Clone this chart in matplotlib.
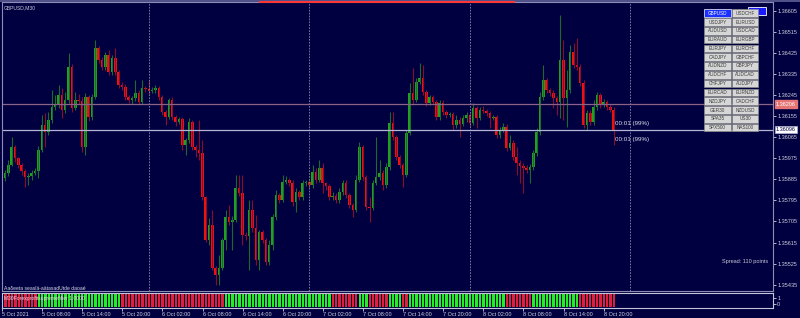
import numpy as np
import matplotlib
matplotlib.use("Agg")
from matplotlib import pyplot as plt
from matplotlib.patches import Rectangle

plt.rcParams['font.family'] = ['Liberation Sans', 'DejaVu Sans']

symbol = "GBPUSD,M30"

# M30 bars from 5 Oct 02:00 to 8 Oct 21:30, open of a bar = close of the previous one
first_open = 1.35946
closes = [
    1.35891, 1.35912, 1.35946, 1.36023, 1.35976, 1.35946, 1.35921, 1.35895, 1.35900, 1.35912,
    1.35921, 1.36011, 1.36117, 1.36087, 1.36139, 1.36194, 1.36203, 1.36245, 1.36181, 1.36224,
    1.36365, 1.36190, 1.36224, 1.36220, 1.36023, 1.36237, 1.36151, 1.36237, 1.36446, 1.36395,
    1.36365, 1.36416, 1.36344, 1.36403, 1.36344, 1.36288, 1.36280, 1.36237, 1.36224, 1.36233,
    1.36254, 1.36216, 1.36275, 1.36271, 1.36262, 1.36267, 1.36275, 1.36237, 1.36173, 1.36151,
    1.36224, 1.36151, 1.36130, 1.36143, 1.36032, 1.36053, 1.36130, 1.36023, 1.36011, 1.35998,
    1.35810, 1.35626, 1.35690, 1.35507, 1.35477, 1.35507, 1.35626, 1.35724, 1.35703, 1.35712,
    1.35848, 1.35827, 1.35648, 1.35643, 1.35754, 1.35677, 1.35541, 1.35660, 1.35626, 1.35532,
    1.35605, 1.35724, 1.35818, 1.35797, 1.35874, 1.35882, 1.35870, 1.35789, 1.35831, 1.35810,
    1.35870, 1.35874, 1.35861, 1.35917, 1.35882, 1.35934, 1.35870, 1.35857, 1.35810, 1.35814,
    1.35797, 1.35831, 1.35870, 1.35818, 1.35776, 1.35754, 1.35882, 1.36023, 1.35895, 1.35767,
    1.35763, 1.35870, 1.35895, 1.35912, 1.35861, 1.35938, 1.36126, 1.36066, 1.35981, 1.35946,
    1.35904, 1.36083, 1.36254, 1.36224, 1.36301, 1.36318, 1.36258, 1.36211, 1.36237, 1.36216,
    1.36151, 1.36211, 1.36173, 1.36160, 1.36164, 1.36117, 1.36139, 1.36122, 1.36147, 1.36160,
    1.36126, 1.36190, 1.36147, 1.36181, 1.36177, 1.36169, 1.36147, 1.36151, 1.36075, 1.36096,
    1.36109, 1.36019, 1.36040, 1.35981, 1.35955, 1.35942, 1.35934, 1.35925, 1.35938, 1.35998,
    1.36087, 1.36237, 1.36309, 1.36267, 1.36254, 1.36233, 1.36216, 1.36395, 1.36233, 1.36267,
    1.36429, 1.36373, 1.36365, 1.36297, 1.36117, 1.36169, 1.36130, 1.36194, 1.36245, 1.36203,
    1.36216, 1.36194, 1.36181, 1.36096,
]
highs = [
    1.35968, 1.35925, 1.35968, 1.36066, 1.36032, 1.35981, 1.35955, 1.35929, 1.35912, 1.35925,
    1.35934, 1.36028, 1.36160, 1.36169, 1.36173, 1.36267, 1.36245, 1.36288, 1.36275, 1.36258,
    1.36425, 1.36378, 1.36258, 1.36250, 1.36237, 1.36254, 1.36245, 1.36250, 1.36480, 1.36455,
    1.36408, 1.36429, 1.36438, 1.36416, 1.36446, 1.36352, 1.36301, 1.36292, 1.36245, 1.36241,
    1.36309, 1.36267, 1.36309, 1.36284, 1.36309, 1.36280, 1.36288, 1.36284, 1.36245, 1.36181,
    1.36233, 1.36237, 1.36160, 1.36151, 1.36151, 1.36062, 1.36147, 1.36139, 1.36032, 1.36139,
    1.36053, 1.35814, 1.35720, 1.35754, 1.35515, 1.35562, 1.35635, 1.35754, 1.35776, 1.35729,
    1.35904, 1.35904, 1.35904, 1.35660, 1.35797, 1.35797, 1.35733, 1.35669, 1.35669, 1.35635,
    1.35626, 1.35737, 1.35840, 1.35827, 1.35904, 1.35900, 1.35891, 1.35882, 1.35848, 1.35840,
    1.35882, 1.35882, 1.35882, 1.35946, 1.35934, 1.35968, 1.35955, 1.35874, 1.35865, 1.35831,
    1.35827, 1.35848, 1.35882, 1.35882, 1.35827, 1.35784, 1.35904, 1.36045, 1.36032, 1.35904,
    1.35810, 1.35882, 1.36066, 1.35968, 1.35925, 1.35955, 1.36173, 1.36173, 1.36075, 1.35989,
    1.35955, 1.36096, 1.36297, 1.36361, 1.36318, 1.36382, 1.36373, 1.36267, 1.36245, 1.36245,
    1.36224, 1.36224, 1.36224, 1.36181, 1.36173, 1.36173, 1.36160, 1.36151, 1.36160, 1.36173,
    1.36169, 1.36211, 1.36198, 1.36194, 1.36198, 1.36186, 1.36177, 1.36160, 1.36160, 1.36109,
    1.36126, 1.36122, 1.36075, 1.36053, 1.36023, 1.35968, 1.35955, 1.35946, 1.35951, 1.36011,
    1.36104, 1.36258, 1.36373, 1.36318, 1.36275, 1.36267, 1.36241, 1.36587, 1.36480, 1.36352,
    1.36459, 1.36467, 1.36489, 1.36378, 1.36309, 1.36181, 1.36181, 1.36224, 1.36258, 1.36254,
    1.36228, 1.36224, 1.36207, 1.36194,
]
lows = [
    1.35840, 1.35878, 1.35900, 1.35942, 1.35959, 1.35934, 1.35904, 1.35853, 1.35861, 1.35882,
    1.35904, 1.35891, 1.36002, 1.36023, 1.36075, 1.36126, 1.36181, 1.36190, 1.36147, 1.36169,
    1.36211, 1.36173, 1.36181, 1.36207, 1.36002, 1.35989, 1.36134, 1.36139, 1.36228, 1.36382,
    1.36352, 1.36352, 1.36331, 1.36331, 1.36331, 1.36275, 1.36267, 1.36224, 1.36211, 1.36207,
    1.36220, 1.36203, 1.36207, 1.36258, 1.36250, 1.36254, 1.36254, 1.36224, 1.36160, 1.36117,
    1.36143, 1.36139, 1.36113, 1.36122, 1.36011, 1.35989, 1.36040, 1.36011, 1.35981, 1.35968,
    1.35797, 1.35618, 1.35605, 1.35498, 1.35434, 1.35434, 1.35498, 1.35584, 1.35690, 1.35584,
    1.35703, 1.35814, 1.35605, 1.35626, 1.35498, 1.35660, 1.35519, 1.35498, 1.35613, 1.35519,
    1.35519, 1.35584, 1.35712, 1.35784, 1.35789, 1.35865, 1.35857, 1.35771, 1.35746, 1.35797,
    1.35797, 1.35857, 1.35848, 1.35848, 1.35870, 1.35874, 1.35827, 1.35840, 1.35797, 1.35797,
    1.35784, 1.35784, 1.35818, 1.35806, 1.35763, 1.35724, 1.35746, 1.35874, 1.35882, 1.35754,
    1.35703, 1.35754, 1.35861, 1.35882, 1.35840, 1.35848, 1.35925, 1.36053, 1.35968, 1.35934,
    1.35853, 1.35895, 1.36075, 1.36203, 1.36216, 1.36292, 1.36245, 1.36198, 1.36203, 1.36207,
    1.36139, 1.36139, 1.36160, 1.36147, 1.36151, 1.36096, 1.36104, 1.36066, 1.36113, 1.36130,
    1.36109, 1.36117, 1.36104, 1.36139, 1.36169, 1.36156, 1.36104, 1.36139, 1.36062, 1.36062,
    1.36087, 1.36006, 1.36011, 1.35968, 1.35904, 1.35870, 1.35827, 1.35912, 1.35870, 1.35925,
    1.35985, 1.36075, 1.36224, 1.36254, 1.36241, 1.36190, 1.36160, 1.36147, 1.36139, 1.36109,
    1.36254, 1.36361, 1.36352, 1.36284, 1.36104, 1.36096, 1.36117, 1.36117, 1.36181, 1.36190,
    1.36194, 1.36181, 1.36173, 1.36032,
]

# filter state, run lengths alternating red / green, starting with red
filter_runs = [11, 25, 31, 32, 8, 3, 6, 4, 2, 29, 8, 14, 11]
filter_label = "M30Forexprofitsupremefilter 1.0000"

bid = 1.36096
ask = 1.36206
spread_points = 110
timer_text = "00:01 (99%)"

price_ticks = [1.36605, 1.36515, 1.36425, 1.36335, 1.36245, 1.36155, 1.36065,
               1.35975, 1.35885, 1.35795, 1.35705, 1.35615, 1.35525, 1.35435]
time_labels = ["5 Oct 2021", "5 Oct 08:00", "5 Oct 14:00", "5 Oct 20:00",
               "6 Oct 02:00", "6 Oct 08:00", "6 Oct 14:00", "6 Oct 20:00",
               "7 Oct 02:00", "7 Oct 08:00", "7 Oct 14:00", "7 Oct 20:00",
               "8 Oct 02:00", "8 Oct 08:00", "8 Oct 14:00", "8 Oct 20:00"]
time_label_bars = [0, 12, 24, 36, 48, 60, 72, 84, 96, 108, 120, 132, 144, 156, 168, 180]
day_break_bars = [44, 92, 140, 188]

symbols_left = ["GBPUSD", "USDJPY", "AUDUSD", "EURAUD", "EURJPY", "CADJPY", "AUDNZD",
                "AUDCHF", "CHFJPY", "EURCAD", "NZDJPY", "GER30", "SPA35", "SPX500"]
symbols_right = ["USDCHF", "EURUSD", "USDCAD", "EURGBP", "EURCHF", "GBPCHF", "GBPJPY",
                 "AUDCAD", "AUDJPY", "EURNZD", "CADCHF", "NZDUSD", "US30", "NAS100"]
comment_text = "Aaδeeta seaslä-aätasadUtde daoaé"

BG = '#000040'
FG = '#d0d0e0'
FRAME = '#8c8cb4'
W, H = 800, 318


def fx(px):
    return px / W


def fy(py):
    return 1 - py / H


fig = plt.figure(figsize=(8, 3.18), dpi=100, facecolor=BG)
ax = fig.add_axes([fx(2), fy(291), fx(771), 289 / H])
ax2 = fig.add_axes([fx(2), fy(308), fx(771), 15 / H])

n = len(closes)
x = np.arange(n)
c = np.array(closes)
o = np.concatenate([[first_open], c[:-1]])
h = np.array(highs)
l = np.array(lows)
up = c >= o
bottom = np.minimum(o, c)
body = np.maximum(np.abs(c - o), 0.00002)

ax.vlines(x[up], l[up], h[up], color='#1d6a2c', lw=0.8)
ax.vlines(x[~up], l[~up], h[~up], color='#8c0c2c', lw=0.8)
ax.bar(x[up], body[up], bottom=bottom[up], width=0.76, color='#22a022', lw=0)
ax.bar(x[~up], body[~up], bottom=bottom[~up], width=0.76, color='#f01212', lw=0)

for d in day_break_bars:
    ax.axvline(d, color='#8a8aac', lw=0.6, ls=(0, (2, 1.5)))
ax.axhline(ask, color='#8a6486', lw=0.9)
ax.axhline(bid, color='#b4b4d4', lw=0.9)

ax.set_xlim(0.1, 230.65)
ax.set_ylim(1.35408, 1.36642)
ax.set_facecolor(BG)
ax.set_xticks([])
ax.yaxis.tick_right()
ax.set_yticks(price_ticks)
ax.set_yticklabels(['%.5f' % p for p in price_ticks])
ax.tick_params(axis='y', colors=FG, labelsize=4, length=2, width=0.6, pad=1.5)
for s in ax.spines.values():
    s.set_color(FRAME)
    s.set_linewidth(0.8)

ytr = ax.get_yaxis_transform()
ax.text(1.004, ask, '%.5f' % ask, transform=ytr, ha='left', va='center', fontsize=4,
        color='white', bbox=dict(boxstyle='square,pad=0.2', fc='#e67474', ec='#e67474'))
ax.text(1.004, bid, '%.5f' % bid, transform=ytr, ha='left', va='center', fontsize=4,
        color=BG, bbox=dict(boxstyle='square,pad=0.2', fc='white', ec='#b0b0d0', lw=0.5))

# filter subwindow
colors = []
for i, run in enumerate(filter_runs):
    colors += ['#e0203a' if i % 2 == 0 else '#22ee22'] * run
ax2.bar(x, np.ones(n), width=0.7, color=colors, lw=0)
ax2.set_xlim(0.1, 230.65)
ax2.set_ylim(-0.04, 1.04)
ax2.set_facecolor(BG)
ax2.yaxis.tick_right()
ax2.set_yticks([0.25, 0.65])
ax2.set_yticklabels(['0', '1'])
ax2.set_xticks(time_label_bars)
ax2.set_xticklabels(time_labels)
for t in ax2.get_xticklabels():
    t.set_ha('left')
ax2.tick_params(colors=FG, labelsize=4, length=2, width=0.6, pad=1)
for s in ax2.spines.values():
    s.set_color('#c4c4d8')
    s.set_linewidth(0.8)
ax2.text(0.003, 0.62, filter_label, transform=ax2.transAxes, fontsize=3.6,
         color='#f4d8e4', va='center', ha='left')

# window decorations
fig.add_artist(Rectangle((0, fy(2)), 1, 2 / H, transform=fig.transFigure,
                         fc='#50508a', ec='none'))
fig.add_artist(Rectangle((fx(259), fy(3)), fx(256), 2.2 / H, transform=fig.transFigure,
                         fc='#ff3636', ec='none'))
fig.text(fx(4), fy(8), symbol, fontsize=3.6, color='#c8c8d8', va='center', ha='left')
fig.text(fx(615), fy(124), timer_text, fontsize=4.5, color='#dcdcec', va='center')
fig.text(fx(615), fy(139), timer_text, fontsize=4.5, color='#dcdcec', va='center')
fig.text(fx(722), fy(262), "Spread: %d points" % spread_points, fontsize=4,
         color='#c8c8d8', va='center')
fig.text(fx(4), fy(288), comment_text, fontsize=3.6, color='#d8d8e8', va='center')

# symbol buttons
fig.add_artist(Rectangle((fx(748), fy(15)), fx(18), 8 / H, transform=fig.transFigure,
                         fc='#1a1aff', ec='white', lw=0.6))
for i, (a, b) in enumerate(zip(symbols_left, symbols_right)):
    yc = 13.2 + 8.8 * i
    for x0, name in ((704.3, a), (731.7, b)):
        active = (i == 0 and x0 < 720)
        fc = '#1a30ff' if active else '#d6d6d6'
        ec = 'white' if active else '#8a8a8a'
        tc = 'white' if active else '#3a3a3a'
        fig.add_artist(Rectangle((fx(x0), fy(yc + 3.8)), fx(26.6), 7.6 / H,
                                 transform=fig.transFigure, fc=fc, ec=ec, lw=0.5))
        fig.text(fx(x0 + 13.3), fy(yc), name, fontsize=3.3, color=tc,
                 ha='center', va='center')

fig.savefig('out.png', dpi=100, facecolor=BG)
